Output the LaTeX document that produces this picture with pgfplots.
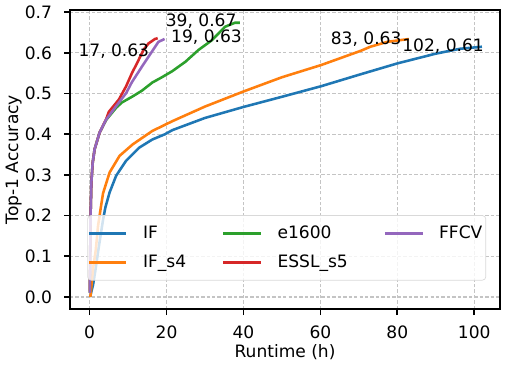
\documentclass[border=0pt]{standalone}
\usepackage{pgfplots}
\pgfplotsset{compat=1.18}
\usepackage{fontspec}
\setmainfont{DejaVu Sans}
\definecolor{tabblue}{HTML}{1F77B4}
\definecolor{taborange}{HTML}{FF7F0E}
\definecolor{tabgreen}{HTML}{2CA02C}
\definecolor{tabred}{HTML}{D62728}
\definecolor{tabpurple}{HTML}{9467BD}
\definecolor{gridgray}{HTML}{C4C4C4}
\begin{document}
\begin{tikzpicture}
\begin{axis}[
  scale only axis, width=251.9pt, height=175.2pt,
  xmin=-5.1, xmax=106.7, ymin=-0.030, ymax=0.705,
  xtick={0,20,40,60,80,100},
  ytick={0,0.1,0.2,0.3,0.4,0.5,0.6,0.7},
  /pgf/number format/assume math mode=true,
  tick label style={font=\fontsize{10}{12}\selectfont},
  xticklabel style={anchor=base, yshift=-13.4pt},
  every y tick label/.append style={anchor=east, xshift=-3.5pt, /pgf/number format/fixed, /pgf/number format/fixed zerofill, /pgf/number format/precision=1},
  label style={font=\fontsize{10}{12}\selectfont},
  xlabel={Runtime (h)}, ylabel={Top-1 Accuracy},
  every axis x label/.style={at={(axis description cs:0.5,-0.1427)}, anchor=center},
  every axis y label/.style={at={(axis description cs:-0.1309,0.5)}, rotate=90, anchor=center},
  tick align=outside, major tick length=3.5pt,
  xtick pos=bottom, ytick pos=left,
  axis line style={line width=1.1pt},
  every tick/.style={black, line width=1pt},
  grid=major,
  major grid style={gridgray, line width=0.6pt, dash pattern=on 2pt off 1.2pt},
  clip=false,
  legend columns=3,
  legend style={at={(rel axis cs:0.504,0.096)}, anchor=south,
    draw=black!15, rounded corners=2pt, fill=white, fill opacity=0.8, text opacity=1,
    font=\fontsize{10}{12}\selectfont, inner xsep=0pt, inner ysep=4pt, row sep=4pt,
    /tikz/every odd column/.append style={column sep=7pt},
    /tikz/every even column/.append style={column sep=19pt}},
  legend cell align=left,
  legend image code/.code={\draw[#1, line width=1.5pt] (0pt,0pt) -- (22pt,0pt);},
]
\addplot[tabblue, line width=1.5pt, forget plot] coordinates {
(0.15,0.0) (0.5,0.015) (0.9,0.03) (1.5,0.065) (2.2,0.111) (3.0,0.16) (3.5,0.19) (4.1,0.22) (5.2,0.257) (6.9,0.298) (9.5,0.335) (12.9,0.367) (16.3,0.387) (19.6,0.40) (21.5,0.41) (30,0.44) (40,0.467) (50,0.492) (60.2,0.518) (70,0.546) (80,0.574) (90,0.598) (96.3,0.610) (102,0.615)};
\addplot[taborange, line width=1.5pt, forget plot] coordinates {
(0.2,0.0) (0.5,0.03) (0.9,0.07) (1.6,0.115) (2.2,0.175) (3.0,0.225) (3.5,0.255) (5.2,0.306) (7.8,0.347) (11.2,0.375) (16.3,0.408) (21.5,0.432) (30,0.468) (40,0.505) (50,0.54) (60.2,0.570) (70.5,0.605) (73,0.615) (77.4,0.627) (83,0.634)};
\addplot[tabgreen, line width=1.5pt, forget plot] coordinates {
(0.05,0.01) (0.15,0.1) (0.25,0.2) (0.45,0.28) (0.8,0.33) (1.3,0.363) (2.6,0.404) (4.3,0.435) (6.9,0.465) (8.4,0.478) (11.2,0.493) (13.6,0.507) (16.3,0.527) (18.8,0.540) (21.5,0.555) (24.9,0.578) (28.3,0.607) (31.8,0.631) (35.2,0.664) (37.8,0.674) (39.1,0.674)};
\addplot[tabred, line width=1.5pt, forget plot] coordinates {
(0.05,0.013) (0.15,0.1) (0.25,0.2) (0.45,0.28) (0.8,0.33) (1.3,0.363) (2.6,0.404) (4.3,0.437) (5.0,0.455) (6.9,0.477) (7.6,0.485) (9.5,0.518) (11.0,0.55) (12.3,0.574) (14.0,0.607) (15.3,0.623) (17.0,0.634) (17.7,0.636)};
\addplot[tabpurple, line width=1.5pt, forget plot] coordinates {
(0.05,0.01) (0.15,0.1) (0.25,0.2) (0.45,0.28) (0.8,0.33) (1.3,0.363) (2.6,0.404) (4.3,0.436) (6.9,0.469) (9.5,0.501) (11,0.528) (13.6,0.566) (16.2,0.603) (17.9,0.627) (19.5,0.634)};
\addlegendimage{tabblue, no markers}\addlegendentry{IF}
\addlegendimage{tabgreen, no markers}\addlegendentry{e1600}
\addlegendimage{tabpurple, no markers}\addlegendentry{FFCV}
\addlegendimage{taborange, no markers}\addlegendentry{IF\_s4}
\addlegendimage{tabred, no markers}\addlegendentry{ESSL\_s5}
\node[font=\fontsize{10}{12}\selectfont] at (axis cs:29.0,0.677) {39, 0.67};
\node[font=\fontsize{10}{12}\selectfont] at (axis cs:30.4,0.638) {19, 0.63};
\node[font=\fontsize{10}{12}\selectfont] at (axis cs:6.3,0.604) {17, 0.63};
\node[font=\fontsize{10}{12}\selectfont] at (axis cs:71.9,0.633) {83, 0.63};
\node[font=\fontsize{10}{12}\selectfont] at (axis cs:91.9,0.616) {102, 0.61};
\end{axis}
\path (current axis.south west) ++(-38.8pt,-32.6pt);
\path (current axis.north east) ++(3.5pt,3.9pt);
\end{tikzpicture}
\end{document}
